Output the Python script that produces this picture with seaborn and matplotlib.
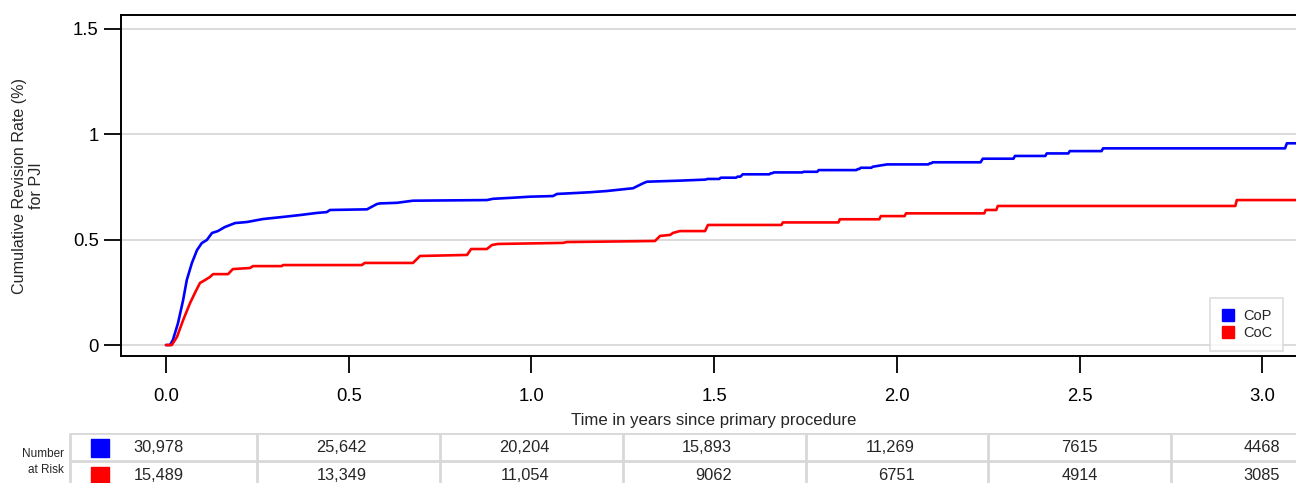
import seaborn as sns
import pandas as pd
import matplotlib.pyplot as plt
from matplotlib.lines import Line2D

sns.set_style("white")
plt.rcParams['font.family'] = ['Liberation Sans', 'DejaVu Sans']

# cumulative revision rate (%), CoP (blue)
cop_time = [0, 0.011, 0.019, 0.033, 0.047, 0.057, 0.071, 0.085, 0.098, 0.112, 0.126, 0.142,
            0.161, 0.189, 0.222, 0.265, 0.320, 0.367, 0.413, 0.440, 0.449, 0.550, 0.577, 0.585,
            0.632, 0.676, 0.878, 0.895, 0.949, 0.996, 1.059, 1.070, 1.105, 1.160, 1.207, 1.234,
            1.278, 1.305, 1.316, 1.406, 1.476, 1.482, 1.514, 1.518, 1.560, 1.564, 1.572, 1.578,
            1.651, 1.655, 1.659, 1.663, 1.741, 1.745, 1.782, 1.786, 1.889, 1.893, 1.897, 1.901,
            1.930, 1.934, 1.973, 2.086, 2.090, 2.094, 2.098, 2.229, 2.235, 2.319, 2.323, 2.406,
            2.410, 2.469, 2.473, 2.560, 2.564, 3.062, 3.067, 3.100]
cop_rate = [0, 0, 0.024, 0.104, 0.213, 0.308, 0.389, 0.450, 0.483, 0.498, 0.531, 0.540,
            0.559, 0.578, 0.583, 0.597, 0.607, 0.616, 0.626, 0.630, 0.640, 0.643, 0.668, 0.671,
            0.674, 0.684, 0.687, 0.693, 0.698, 0.703, 0.706, 0.716, 0.719, 0.724, 0.730, 0.735,
            0.743, 0.766, 0.774, 0.779, 0.784, 0.787, 0.787, 0.793, 0.793, 0.798, 0.798, 0.809,
            0.809, 0.814, 0.814, 0.818, 0.818, 0.821, 0.821, 0.829, 0.829, 0.834, 0.834, 0.840,
            0.840, 0.845, 0.856, 0.856, 0.861, 0.861, 0.866, 0.866, 0.883, 0.883, 0.896, 0.896,
            0.908, 0.908, 0.919, 0.919, 0.932, 0.932, 0.956, 0.956]

# CoC (red)
coc_time = [0, 0.016, 0.030, 0.047, 0.066, 0.079, 0.093, 0.107, 0.120, 0.129, 0.170, 0.183,
            0.230, 0.238, 0.317, 0.320, 0.536, 0.544, 0.676, 0.695, 0.824, 0.835, 0.878, 0.892,
            0.908, 1.086, 1.097, 1.338, 1.352, 1.380, 1.387, 1.406, 1.475, 1.483, 1.684, 1.688,
            1.840, 1.844, 1.952, 1.956, 2.021, 2.025, 2.239, 2.243, 2.272, 2.276, 2.926, 2.930,
            3.100]
coc_rate = [0, 0, 0.038, 0.118, 0.199, 0.246, 0.294, 0.308, 0.322, 0.336, 0.336, 0.360,
            0.365, 0.374, 0.374, 0.379, 0.379, 0.389, 0.389, 0.422, 0.427, 0.455, 0.455, 0.474,
            0.479, 0.484, 0.488, 0.493, 0.517, 0.522, 0.531, 0.540, 0.540, 0.569, 0.569, 0.581,
            0.581, 0.596, 0.596, 0.611, 0.611, 0.624, 0.624, 0.640, 0.640, 0.659, 0.659, 0.687,
            0.687]

groups = ["CoP", "CoC"]
colors = {"CoP": "#0000ff", "CoC": "#ff0000"}

risk_times = [0.0, 0.5, 1.0, 1.5, 2.0, 2.5, 3.0]
risk_cop = ["30,978", "25,642", "20,204", "15,893", "11,269", "7615", "4468"]
risk_coc = ["15,489", "13,349", "11,054", "9062", "6751", "4914", "3085"]

df = pd.concat([
    pd.DataFrame({"time": cop_time, "rate": cop_rate, "group": "CoP"}),
    pd.DataFrame({"time": coc_time, "rate": coc_rate, "group": "CoC"}),
])

fig = plt.figure(figsize=(12.96, 4.83), dpi=100)
ax = fig.add_axes([121 / 1296, 127 / 483, 1175 / 1296, 341 / 483])

sns.lineplot(data=df, x="time", y="rate", hue="group", palette=colors,
             estimator=None, sort=False, linewidth=1.9, legend=False, ax=ax, zorder=3)

ax.set_xlim(-0.123, 3.092)
ax.set_ylim(-0.052, 1.564)
ax.set_xticks(risk_times)
ax.set_xticklabels([f"{t:.1f}" for t in risk_times])
ax.set_yticks([0, 0.5, 1, 1.5])
ax.set_yticklabels(["0", "0.5", "1", "1.5"])
ax.yaxis.grid(True, color="#d8d8d8", linewidth=1.3)
ax.set_axisbelow(True)
for s in ["left", "top", "bottom"]:
    ax.spines[s].set_color("black")
    ax.spines[s].set_linewidth(1.4)
ax.spines["right"].set_visible(False)
ax.tick_params(axis="both", direction="out", length=12, width=1.3, colors="black",
               labelsize=13.3, bottom=True, left=True)
ax.tick_params(axis="x", pad=11)
ax.tick_params(axis="y", pad=4)
ax.set(xlabel="", ylabel="")

fig.text(714 / 1296, 1 - 421 / 483, "Time in years since primary procedure",
         ha="center", va="center", fontsize=12.1)
fig.text(28 / 1296, 1 - 186 / 483, "Cumulative Revision Rate (%)\nfor PJI",
         ha="center", va="center", rotation=90, fontsize=11.6, multialignment="center",
         linespacing=1.15)

handles = [Line2D([], [], marker="s", linestyle="", markersize=8, color=colors[g]) for g in groups]
leg = ax.legend(handles, groups, loc="lower right", bbox_to_anchor=(0.989, 0.015),
                borderaxespad=0, fontsize=10.5, frameon=True, fancybox=False,
                handletextpad=0.5, borderpad=0.75, labelspacing=0.2, handlelength=1.0)
leg.get_frame().set_edgecolor("#d8d8d8")
leg.get_frame().set_linewidth(1.3)

# number at risk table
tab = fig.add_axes([0, 0, 1, 50 / 483])
tab.set_xlim(-0.454, 3.092)
tab.set_ylim(0, 50)
tab.axis("off")
grid_c = "#d8d8d8"
tab.hlines([50, 22.5], -0.263, 3.092, color=grid_c, linewidth=2)
tab.vlines([-0.263, 0.25, 0.75, 1.25, 1.75, 2.25, 2.75], 0, 50, color=grid_c, linewidth=2)
for t, a, b in zip(risk_times, risk_cop, risk_coc):
    tab.text(t + 0.049, 35.5, a, ha="right", va="center", fontsize=11.8)
    tab.text(t + 0.049, 7.5, b, ha="right", va="center", fontsize=11.8)
tab.plot([-0.181], [35.5], marker="s", markersize=12.5, color=colors["CoP"], linestyle="")
tab.plot([-0.181], [7.5], marker="s", markersize=12.5, color=colors["CoC"], linestyle="")
tab.text(-0.278, 29, "Number", ha="right", va="center", fontsize=8.5)
tab.text(-0.278, 13, "at Risk", ha="right", va="center", fontsize=8.5)

fig.savefig("out.png", dpi=100)
